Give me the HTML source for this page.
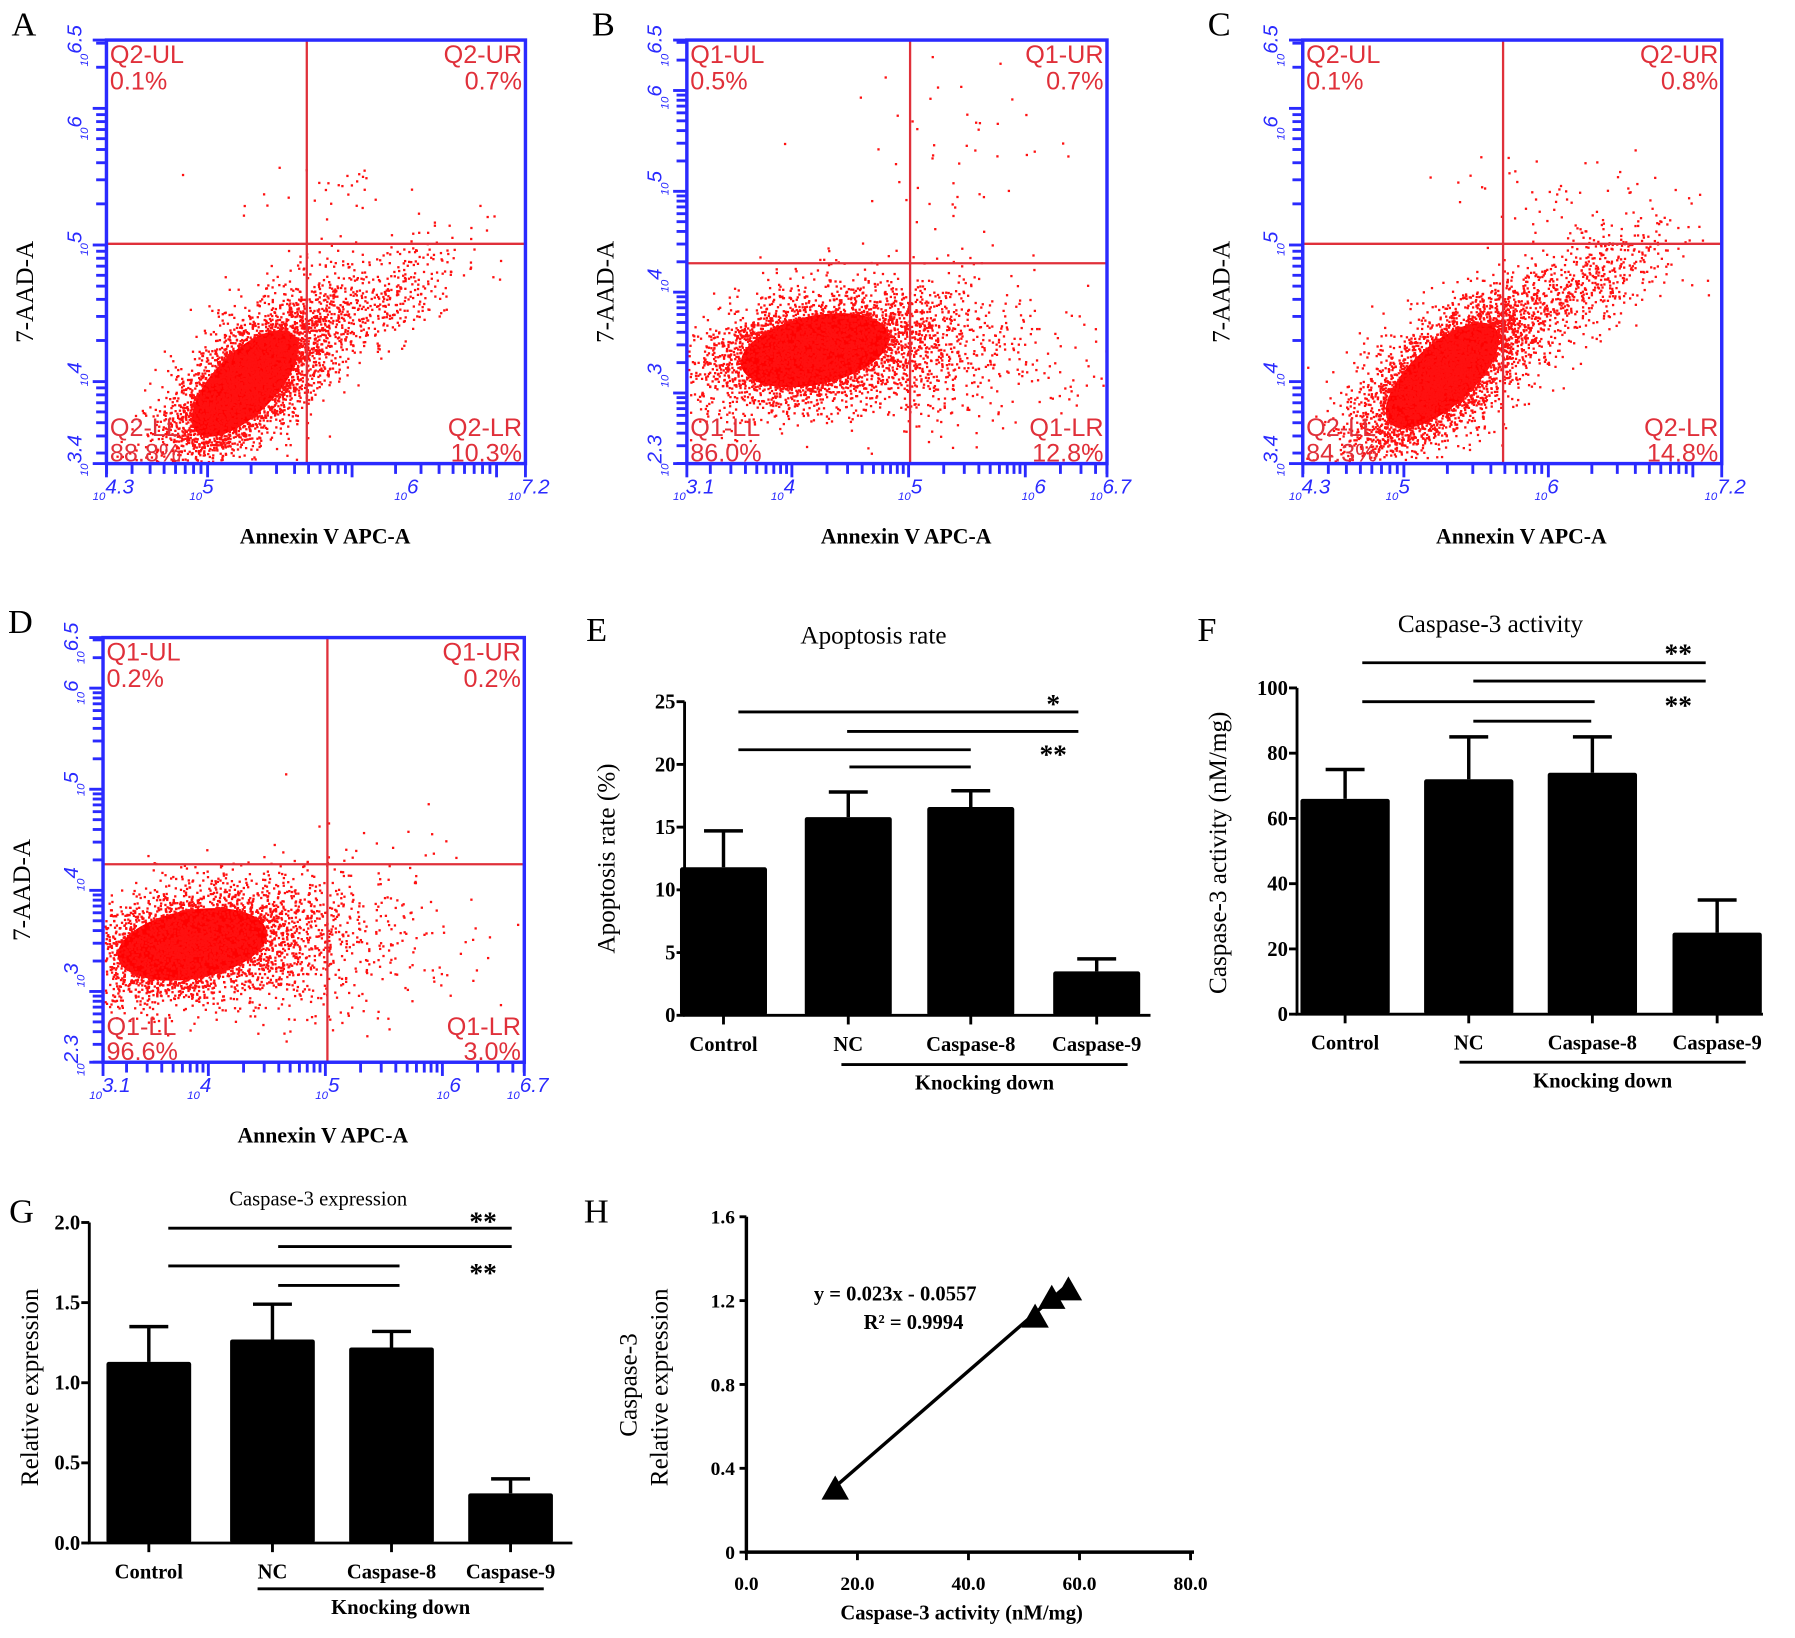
<!DOCTYPE html>
<html><head><meta charset="utf-8">
<style>
html,body{margin:0;padding:0;background:#fff;}
svg{display:block;}
.serif{font-family:"Liberation Serif",serif;}
.sans{font-family:"Liberation Sans",sans-serif;}
</style></head>
<body>
<svg id="fig" width="1795" height="1638" viewBox="0 0 1568 1431" preserveAspectRatio="none" xmlns="http://www.w3.org/2000/svg"></svg>
<script>
// ---------- data ----------
const barCats = ["Control","NC","Caspase-8","Caspase-9"];
const apopMean = [11.8,15.8,16.6,3.5];
const apopErr = [2.9,2.0,1.3,1.0];
const apopTicks = [0,5,10,15,20,25];
const actMean = [66,72,74,25];
const actErr = [9,13,11,10];
const actTicks = [0,20,40,60,80,100];
const exprMean = [1.13,1.27,1.22,0.31];
const exprErr = [0.22,0.22,0.10,0.09];
const exprTicks = [0.0,0.5,1.0,1.5,2.0];
const corrX = [16,52,55,58];
const corrY = [0.30,1.12,1.21,1.25];
const corrXTicks = [0,20,40,60,80];
const corrYTicks = [0,0.4,0.8,1.2,1.6];
const quadA = ["Q2-UL","0.1%","Q2-UR","0.7%","Q2-LL","88.8%","Q2-LR","10.3%"];
const quadB = ["Q1-UL","0.5%","Q1-UR","0.7%","Q1-LL","86.0%","Q1-LR","12.8%"];
const quadC = ["Q2-UL","0.1%","Q2-UR","0.8%","Q2-LL","84.3%","Q2-LR","14.8%"];
const quadD = ["Q1-UL","0.2%","Q1-UR","0.2%","Q1-LL","96.6%","Q1-LR","3.0%"];

const NS="http://www.w3.org/2000/svg";
const svg=document.getElementById('fig');
function el(tag,attrs,parent,text){const e=document.createElementNS(NS,tag);for(const k in attrs)e.setAttribute(k,attrs[k]);if(text!==undefined)e.textContent=text;(parent||svg).appendChild(e);return e;}

// ---------- flow cytometry panels ----------
let seed=12345;
function rnd(){seed|=0;seed=seed+0x6D2B79F5|0;let t=Math.imul(seed^seed>>>15,1|seed);t=t+Math.imul(t^t>>>7,61|t)^t;return((t^t>>>14)>>>0)/4294967296;}
function gauss(){let u=rnd()||1e-9,v=rnd();return Math.sqrt(-2*Math.log(u))*Math.cos(2*Math.PI*v);}

function logTicks(lo,hi){const out=[];for(let d=Math.floor(lo);d<=Math.ceil(hi);d++){for(let k=1;k<=9;k++){const v=d+Math.log10(k);if(v>=lo-1e-6&&v<=hi+1e-6)out.push([v,k===1]);}}return out;}

function flow(p){
  const g=el('g',{},svg);
  
  
  const t=el('text',{x:p.x0-83,y:p.y0-4,'font-size':30,class:'serif'},g,p.letter);
  
  const cg=el('g',{fill:'#ff0000'},g);
  p.core.forEach(c=>{el('ellipse',{cx:c.cx,cy:c.cy,rx:c.rx,ry:c.ry,transform:`rotate(${c.ang} ${c.cx} ${c.cy})`},cg);});
  const dg=el('g',{fill:'#ff1010'},g);
  
  p.clusters.forEach(c=>{
    const a=c.ang*Math.PI/180;
    for(let i=0;i<c.n;i++){
      const u=gauss()*c.sx,v=gauss()*c.sy;
      const x=c.cx+u*Math.cos(a)-v*Math.sin(a), y=c.cy+u*Math.sin(a)+v*Math.cos(a);
      if(x<p.x0+1||x>p.x1-1||y<p.y0+1||y>p.y1-1)continue;
      el('rect',{x:x.toFixed(1),y:y.toFixed(1),width:2,height:2},dg);
    }
  });
  const q1=el('line',{x1:p.qx,y1:p.y0,x2:p.qx,y2:p.y1,stroke:'#e0303a','stroke-width':2},g);
  
  const q2=el('line',{x1:p.x0,y1:p.qy,x2:p.x1,y2:p.qy,stroke:'#e0303a','stroke-width':2},g);
  
  const b=el('rect',{x:p.x0,y:p.y0,width:p.x1-p.x0,height:p.y1-p.y0,fill:'none',stroke:'#2a2aff','stroke-width':3},g);
  
  const q=p.quad, fs=22, c='#e0303a';
  const L=[[p.x0+3,p.y0+20,'start',q[0]],[p.x0+3,p.y0+43,'start',q[1]],[p.x1-3,p.y0+20,'end',q[2]],[p.x1-3,p.y0+43,'end',q[3]],
           [p.x0+3,p.y1-24,'start',q[4]],[p.x0+3,p.y1-2,'start',q[5]],[p.x1-3,p.y1-24,'end',q[6]],[p.x1-3,p.y1-2,'end',q[7]]];
  L.forEach((l,i)=>{const tt=el('text',{x:l[0],y:l[1],'text-anchor':l[2],'font-size':fs,fill:c,class:'sans'},g,l[3]);
    });
  const tg=el('g',{stroke:'#2a2aff','stroke-width':2.5},g);
  const xm=v=>p.x0+(v-p.xr[0])/(p.xr[1]-p.xr[0])*(p.x1-p.x0);
  const ym=v=>p.y1-(v-p.yr[0])/(p.yr[1]-p.yr[0])*(p.y1-p.y0);
  logTicks(p.xr[0],p.xr[1]).forEach(([v,maj])=>el('line',{x1:xm(v),y1:p.y1,x2:xm(v),y2:p.y1+(maj?12:9)},tg));
  logTicks(p.yr[0],p.yr[1]).forEach(([v,maj])=>el('line',{x1:p.x0-(maj?12:9),y1:ym(v),x2:p.x0,y2:ym(v)},tg));
  el('line',{x1:p.x0,y1:p.y1,x2:p.x0,y2:p.y1+12},tg);el('line',{x1:p.x1,y1:p.y1,x2:p.x1,y2:p.y1+12},tg);
  el('line',{x1:p.x0-12,y1:p.y0,x2:p.x0,y2:p.y0},tg);el('line',{x1:p.x0-12,y1:p.y1,x2:p.x0,y2:p.y1},tg);
  p.xt.forEach(t=>{const tt=el('text',{x:t[0],y:p.y1+32,'font-size':18,fill:'#2a2aff',class:'sans','font-style':'italic','text-anchor':'middle'},g);
    el('tspan',{'font-size':10},tt,'10');el('tspan',{dy:-6},tt,t[1]);
    });
  p.yt.forEach(t=>{const tt=el('text',{x:0,y:0,'font-size':18,fill:'#2a2aff',class:'sans','font-style':'italic','text-anchor':'middle',transform:`translate(${p.x0-16},${t[0]}) rotate(-90)`},g);
    el('tspan',{'font-size':10},tt,'10');el('tspan',{dy:-6},tt,t[1]);
    });
  const xt=el('text',{x:(p.x0+p.x1)/2+8,y:p.y1+70,'font-size':19,'font-weight':'bold',class:'serif','text-anchor':'middle'},g,'Annexin V APC-A');
  
  const yt=el('text',{x:0,y:0,'font-size':22,class:'serif','text-anchor':'middle',transform:`translate(${p.x0-64},${(p.y0+p.y1)/2+35}) rotate(-90)`},g,'7-AAD-A');
  
}
const xtA=[[99,'4.3'],[176,'5'],[355,'6'],[462,'7.2']];
const ytA=[[40,'6.5'],[112,'6'],[213,'5'],[327,'4'],[398,'3.4']];
flow({letter:'A',x0:93,x1:459,y0:35,y1:405,qx:268,qy:213,quad:quadA,xt:xtA,yt:ytA,xr:[4.3,7.2],yr:[3.4,6.5],
 core:[{cx:214,cy:335,rx:60,ry:27,ang:-45}],clusters:[
 {cx:214,cy:335,sx:44,sy:19,ang:-45,n:3200},{cx:228,cy:320,sx:58,sy:26,ang:-40,n:1000},{cx:330,cy:265,sx:45,sy:18,ang:-30,n:380},{cx:300,cy:165,sx:50,sy:15,ang:0,n:30}]});
flow({letter:'B',x0:600,x1:967,y0:35,y1:405,qx:795,qy:230,quad:quadB,xr:[3.1,6.7],yr:[2.3,6.5],
 xt:[[606,'3.1'],[684,'4'],[795,'5'],[903,'6'],[970,'6.7']],yt:[[40,'6.5'],[85,'6'],[160,'5'],[245,'4'],[328,'3'],[398,'2.3']],
 core:[{cx:712,cy:306,rx:66,ry:30,ang:-12}],clusters:[
 {cx:712,cy:306,sx:52,sy:24,ang:-12,n:3200},{cx:790,cy:305,sx:72,sy:34,ang:0,n:850},{cx:840,cy:140,sx:45,sy:45,ang:0,n:50}]});
flow({letter:'C',x0:1138,x1:1504,y0:35,y1:405,qx:1313,qy:213,quad:quadC,xr:[4.3,7.2],yr:[3.4,6.5],
 xt:[[1144,'4.3'],[1221,'5'],[1351,'6'],[1507,'7.2']],yt:ytA.map(t=>t),
 core:[{cx:1260,cy:328,rx:62,ry:27,ang:-42}],clusters:[
 {cx:1260,cy:328,sx:46,sy:19,ang:-42,n:3200},{cx:1274,cy:316,sx:60,sy:27,ang:-38,n:1000},{cx:1385,cy:250,sx:48,sy:20,ang:-30,n:550},{cx:1360,cy:162,sx:45,sy:15,ang:0,n:40}]});
flow({letter:'D',x0:90,x1:458,y0:557,y1:928,qx:286,qy:755,quad:quadD,xr:[3.1,6.7],yr:[2.3,6.5],
 xt:[[96,'3.1'],[174,'4'],[286,'5'],[392,'6'],[461,'6.7']],yt:[[562,'6.5'],[605,'6'],[685,'5'],[768,'4'],[852,'3'],[922,'2.3']],
 core:[{cx:168,cy:825,rx:66,ry:30,ang:-10}],clusters:[
 {cx:168,cy:825,sx:52,sy:24,ang:-10,n:3200},{cx:250,cy:825,sx:68,sy:34,ang:0,n:600},{cx:330,cy:740,sx:45,sy:35,ang:0,n:30}]});

// ---------- bar charts ----------
function barChart(p){
  const g=el('g',{},svg);
  
  const ys=v=>p.y0-(v-p.tmin)/(p.tmax-p.tmin)*(p.y0-p.ytop);
  const L=el('text',{x:p.lx,y:p.ly,'font-size':30,class:'serif'},g,p.letter);
  
  const T=el('text',{x:p.tx,y:p.ty,'font-size':p.tfs,class:'serif','text-anchor':'middle'},g,p.title);
  
  p.mean.forEach((m,i)=>{
    const cx=p.cx[i];
    const e=el('line',{x1:cx,y1:ys(m),x2:cx,y2:ys(m+p.err[i]),stroke:'#000','stroke-width':3},g);
    
    const c=el('line',{x1:cx-17,y1:ys(m+p.err[i]),x2:cx+17,y2:ys(m+p.err[i]),stroke:'#000','stroke-width':3},g);
    
    const r=el('rect',{x:cx-p.bw/2,y:ys(m),width:p.bw,height:ys(p.tmin)-ys(m),fill:'#000',rx:2},g);
    
    el('line',{x1:cx,y1:p.y0,x2:cx,y2:p.y0+8,stroke:'#000','stroke-width':2.5},g);
    const xl=el('text',{x:cx,y:p.y0+31,'font-size':p.lfs,'font-weight':'bold',class:'serif','text-anchor':'middle'},g,barCats[i]);
    
  });
  const ax=el('path',{d:`M${p.ax},${ys(p.tmax)} V${p.y0} H${p.axEnd}`,fill:'none',stroke:'#000','stroke-width':2.5},g);
  
  p.ticks.forEach(t=>{el('line',{x1:p.ax-7,y1:ys(t),x2:p.ax,y2:ys(t),stroke:'#000','stroke-width':2.5},g);
    const tl=el('text',{x:p.ax-8,y:ys(t)+6,'font-size':p.lfs,'font-weight':'bold',class:'serif','text-anchor':'end'},g,p.fmt(t));
    });
  const yl=el('text',{x:0,y:0,'font-size':p.yfs,class:'serif','text-anchor':'middle',transform:`translate(${p.ylx},${p.yly}) rotate(-90)`},g,p.ylabel);
  
  p.sig.forEach(s=>{const l=el('line',{x1:s[0],y1:s[2],x2:s[1],y2:s[2],stroke:'#000','stroke-width':2.5},g);
    });
  p.stars.forEach(s=>{const st=el('text',{x:s[0],y:s[1],'font-size':24,'font-weight':'bold',class:'serif','text-anchor':'middle'},g,s[2]);
    });
  const kl=el('line',{x1:p.k[0],y1:p.k[2],x2:p.k[1],y2:p.k[2],stroke:'#000','stroke-width':2.5},g);
  
  const kt=el('text',{x:(p.k[0]+p.k[1])/2,y:p.k[2]+22,'font-size':p.lfs,'font-weight':'bold',class:'serif','text-anchor':'middle'},g,'Knocking down');
  
}
barChart({letter:'E',lx:512,ly:560,title:'Apoptosis rate',tx:763,ty:562,tfs:22,mean:apopMean,err:apopErr,ticks:apopTicks,tmin:0,tmax:25,
 y0:887,ytop:613,ax:598,axEnd:1005,cx:[632,741,848,958],bw:76,lfs:18,fmt:t=>String(t),ylabel:'Apoptosis rate (%)',ylx:537,yly:750,yfs:22,
 sig:[[645,942,622],[740,942,639],[645,848,655],[742,848,670]],stars:[[920,623,'*'],[920,667,'**']],k:[735,985,930]});
barChart({letter:'F',lx:1046,ly:560,title:'Caspase-3 activity',tx:1302,ty:552,tfs:22,mean:actMean,err:actErr,ticks:actTicks,tmin:0,tmax:100,
 y0:886,ytop:601,ax:1133,axEnd:1540,cx:[1175,1283,1391,1500],bw:78,lfs:18,fmt:t=>String(t),ylabel:'Caspase-3 activity (nM/mg)',ylx:1071,yly:745,yfs:22,
 sig:[[1190,1490,579],[1287,1490,595],[1190,1393,613],[1287,1390,630]],stars:[[1466,579,'**'],[1466,624,'**']],k:[1275,1525,928]});
barChart({letter:'G',lx:8,ly:1068,title:'Caspase-3 expression',tx:278,ty:1053,tfs:18,mean:exprMean,err:exprErr,ticks:exprTicks,tmin:0,tmax:2,
 y0:1348,ytop:1068,ax:78,axEnd:500,cx:[130,238,342,446],bw:74,lfs:18,fmt:t=>t.toFixed(1),ylabel:'Relative expression',ylx:33,yly:1212,yfs:22,
 sig:[[147,447,1073],[243,447,1089],[147,349,1106],[243,349,1123]],stars:[[422,1075,'**'],[422,1120,'**']],k:[225,475,1388]});

// ---------- correlation panel H ----------
(function(){
  const g=el('g',{},svg);
  
  const x0=652,x80=1040,y0=1356,y16=1063;
  const xs=v=>x0+v/80*(x80-x0), ys=v=>y0-v/1.6*(y0-y16);
  const L=el('text',{x:510,y:1068,'font-size':30,class:'serif'},g,'H');
  
  const ax=el('path',{d:`M${x0},${ys(1.6)} V${y0} H${x80+3}`,fill:'none',stroke:'#000','stroke-width':3},g);
  
  corrYTicks.forEach(t=>{el('line',{x1:x0-6,y1:ys(t),x2:x0,y2:ys(t),stroke:'#000','stroke-width':2.5},g);
    const tl=el('text',{x:x0-10,y:ys(t)+6,'font-size':17,'font-weight':'bold',class:'serif','text-anchor':'end'},g,t===0?'0':t.toFixed(1));
    });
  corrXTicks.forEach(t=>{el('line',{x1:xs(t),y1:y0,x2:xs(t),y2:y0+7,stroke:'#000','stroke-width':2.5},g);
    const tl=el('text',{x:xs(t),y:y0+33,'font-size':17,'font-weight':'bold',class:'serif','text-anchor':'middle'},g,t.toFixed(1));
    });
  const xmin=Math.min(...corrX),xmax=Math.max(...corrX);
  const fit=el('line',{x1:xs(xmin),y1:ys(0.023*xmin-0.0557),x2:xs(xmax),y2:ys(0.023*xmax-0.0557),stroke:'#000','stroke-width':3},g);
  
  corrX.forEach((x,i)=>{const px=xs(x),py=ys(corrY[i]);
    const tr=el('polygon',{points:`${px},${py-12} ${px-12},${py+9} ${px+12},${py+9}`,fill:'#000'},g);
    });
  const e1=el('text',{x:782,y:1136,'font-size':18,'font-weight':'bold',class:'serif','text-anchor':'middle'},g,'y = 0.023x - 0.0557');
  
  const e2=el('text',{x:798,y:1161,'font-size':18,'font-weight':'bold',class:'serif','text-anchor':'middle'},g,'R² = 0.9994');
  
  const xt=el('text',{x:840,y:1415,'font-size':18,'font-weight':'bold',class:'serif','text-anchor':'middle'},g,'Caspase-3 activity  (nM/mg)');
  
  const y1=el('text',{x:0,y:0,'font-size':22,class:'serif','text-anchor':'middle',transform:'translate(556,1210) rotate(-90)'},g,'Caspase-3');
  
  const y2=el('text',{x:0,y:0,'font-size':22,class:'serif','text-anchor':'middle',transform:'translate(583,1212) rotate(-90)'},g,'Relative expression');
  
})();
</script>
</body></html>
